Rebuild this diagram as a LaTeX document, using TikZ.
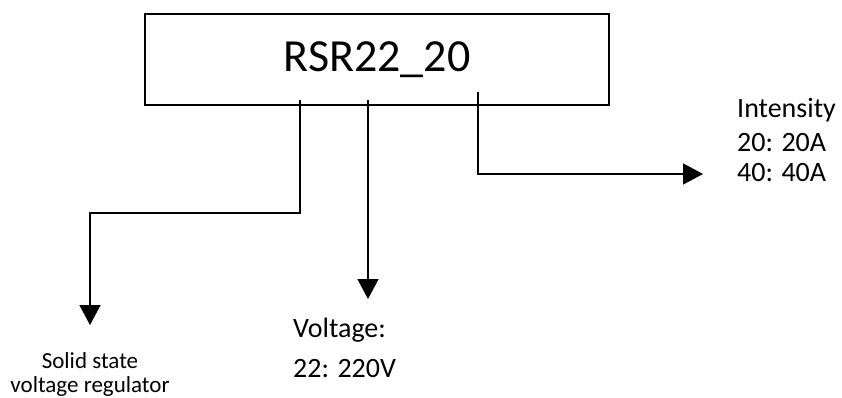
\documentclass[tikz,border=0pt]{standalone}
\usepackage{fontspec}
\setmainfont{Carlito}
\usetikzlibrary{arrows.meta}
\begin{document}
\begin{tikzpicture}[
  x=1pt, y=-1pt,
  box/.style={draw=black, line width=1.5pt, rectangle,
              minimum width=464pt, minimum height=91pt,
              font=\fontsize{46}{50}\selectfont, inner sep=0pt,
              outer sep=0pt, anchor=center},
  lbl/.style={font=\fontsize{28}{32}\selectfont, anchor=base west, inner sep=0pt},
  sml/.style={font=\fontsize{23}{27}\selectfont, anchor=base, inner sep=0pt},
  wire/.style={draw=black, line width=1.5pt},
  arr/.style={wire, -{Triangle[width=21pt, length=20pt]}},
]
\useasboundingbox (0,0) rectangle (842,398);
% Code box
\node[box] (rsr) at (377,59.5) {\raisebox{4pt}{RSR22\_20}};
% Stem tops
\coordinate (s1) at (300,100);
\coordinate (s2) at (368,100);
\coordinate (s3) at (478,92);
% Labels
\node[sml] (solid) at (90,368) {Solid state};
\node[sml] (regul) at (90,392) {voltage regulator};
\node[lbl] (volt) at (293,337) {Voltage:};
\node[lbl] (v22)  at (293,377) {22: 220V};
\node[lbl] (inten) at (737,118) {Intensity};
\node[lbl] (i20)  at (737,152) {20: 20A};
\node[lbl] (i40)  at (737,182) {40: 40A};
% Arrow ends
\coordinate (t1) at (90,325);
\coordinate (t2) at (368,299);
\coordinate (t3) at (703,174);
% Connectors
\draw[arr] (s1) |- (90,213) -- (t1);
\draw[arr] (s2) -- (t2);
\draw[arr] (s3) |- (t3);
\end{tikzpicture}
\end{document}
